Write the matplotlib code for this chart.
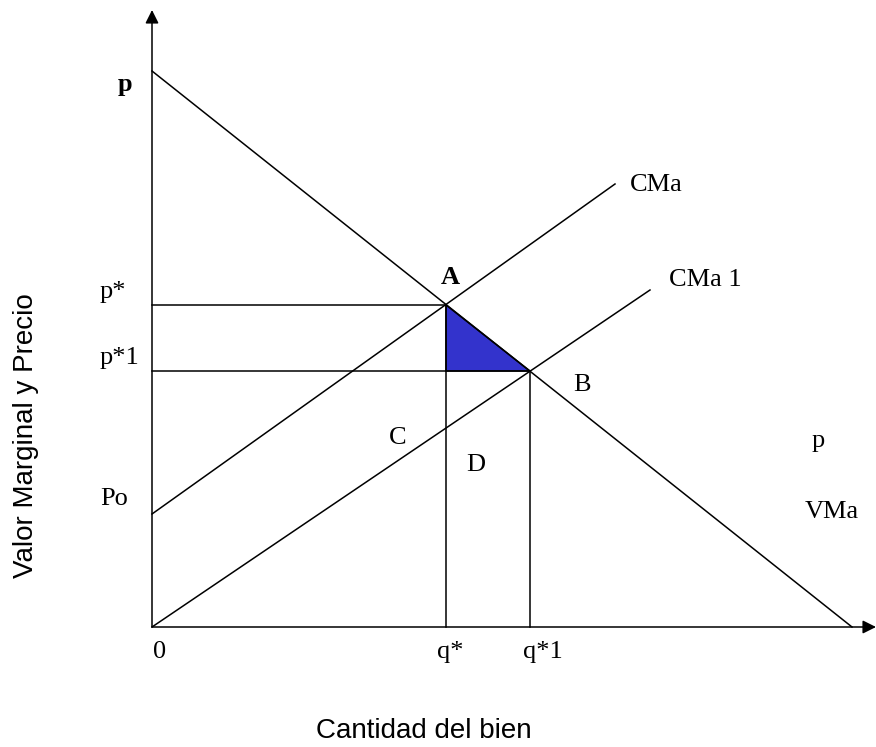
import matplotlib.pyplot as plt
from matplotlib.patches import Polygon

# Coordenadas en unidades del gráfico (origen en 0, 0)
EJE_X_MAX = 724
EJE_Y_MAX = 617

# Curva VMa (demanda)
vma_x = [0, 700]
vma_y = [556, 0]

# Curva CMa
cma_x = [0, 463]
cma_y = [113, 443]

# Curva CMa 1
cma1_x = [0, 498]
cma1_y = [0, 337]

# Puntos de equilibrio
A = (294, 322)
B = (378, 256)

# Etiquetas del eje
eje_y_etiquetas = ["p*", "p*1", "Po"]
eje_y_pos = [A[1], B[1], 115]
eje_x_etiquetas = ["0", "q*", "q*1"]
eje_x_pos = [0, A[0], B[0]]
eje_x_desp = [1, -9, -7]

SERIF = ['Liberation Serif', 'DejaVu Serif']
SANS = ['Liberation Sans', 'DejaVu Sans']

fig = plt.figure(figsize=(8.76, 7.47), dpi=100)
ax = fig.add_axes([0, 0, 1, 1])
ax.set_xlim(-152, 876 - 152)
ax.set_ylim(627 - 747, 627)
ax.axis('off')

lw = 1.1
# Ejes con flechas
ax.annotate('', xy=(EJE_X_MAX, 0), xytext=(0, 0),
            arrowprops=dict(arrowstyle='-|>', color='black', lw=lw, mutation_scale=20,
                            shrinkA=0, shrinkB=0))
ax.annotate('', xy=(0, EJE_Y_MAX), xytext=(0, 0),
            arrowprops=dict(arrowstyle='-|>', color='black', lw=lw, mutation_scale=20,
                            shrinkA=0, shrinkB=0))

# Área sombreada
tri = Polygon([A, (A[0], B[1]), B], closed=True, facecolor='#3333CC', edgecolor='black', lw=lw)
ax.add_patch(tri)

# Curvas
ax.plot(vma_x, vma_y, color='black', lw=lw)
ax.plot(cma_x, cma_y, color='black', lw=lw)
ax.plot(cma1_x, cma1_y, color='black', lw=lw)

# Líneas guía
ax.plot([0, A[0]], [A[1], A[1]], color='black', lw=lw)
ax.plot([0, B[0]], [B[1], B[1]], color='black', lw=lw)
ax.plot([A[0], A[0]], [0, A[1]], color='black', lw=lw)
ax.plot([B[0], B[0]], [0, B[1]], color='black', lw=lw)

fs = 19
for lab, y in zip(eje_y_etiquetas, eje_y_pos):
    ax.text(-52, y + 13, lab, family=SERIF, fontsize=fs, ha='left', va='center')
for lab, x, d in zip(eje_x_etiquetas, eje_x_pos, eje_x_desp):
    ax.text(x + d, -25, lab, family=SERIF, fontsize=fs, ha='left', va='center')

ax.text(-27, 542, "p", family=SERIF, fontsize=fs, fontweight='bold', ha='center', va='center')
ax.text(A[0] + 4, 349, "A", family=SERIF, fontsize=fs, fontweight='bold', ha='center', va='center')
ax.text(430, 242, "B", family=SERIF, fontsize=fs, ha='center', va='center')
ax.text(246, 189, "C", family=SERIF, fontsize=fs, ha='center', va='center')
ax.text(324, 162, "D", family=SERIF, fontsize=fs, ha='center', va='center')
ax.text(666, 186, "p", family=SERIF, fontsize=fs, ha='center', va='center')
ax.text(680, 115, "VMa", family=SERIF, fontsize=fs, ha='center', va='center')
ax.text(504, 442, "CMa", family=SERIF, fontsize=fs, ha='center', va='center')
ax.text(553, 347, "CMa 1", family=SERIF, fontsize=fs, ha='center', va='center')

ax.text(272, -111, "Cantidad del bien", family=SANS, fontsize=20, ha='center', va='baseline')
ax.text(-126, 191, "Valor Marginal y Precio", family=SANS, fontsize=20,
        rotation=90, ha='center', va='center')

fig.savefig('out.png', dpi=100)
